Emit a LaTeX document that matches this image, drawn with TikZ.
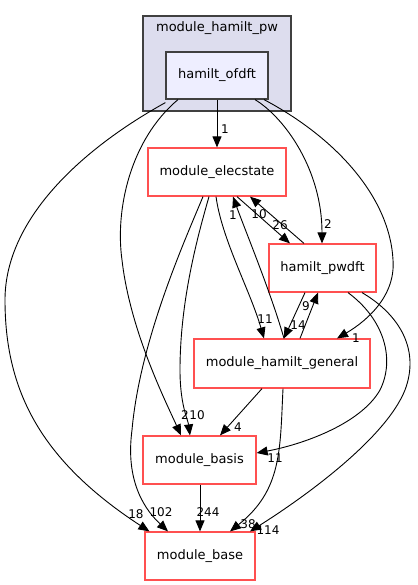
\documentclass[tikz,border=0pt]{standalone}
\usepackage{fontspec}
\setmainfont{DejaVu Sans}
\usetikzlibrary{arrows.meta}
\definecolor{nodered}{RGB}{255,80,80}
\definecolor{clusterfill}{RGB}{221,221,238}
\definecolor{ofdftfill}{RGB}{238,238,255}
\definecolor{darkline}{RGB}{64,64,64}
\tikzset{
  box/.style={draw=nodered, line width=1.2pt, fill=white, inner sep=0pt, font=\fontsize{13}{15}\selectfont},
  mainbox/.style={draw=darkline, line width=1.2pt, fill=ofdftfill, inner sep=0pt, font=\fontsize{13}{15}\selectfont},
  edge/.style={draw=black, line width=0.9pt, -{Triangle[length=11pt,width=9pt]}},
  lbl/.style={inner sep=0pt, font=\fontsize{12}{14}\selectfont}
}
\begin{document}
\begin{tikzpicture}[x=1pt,y=-1pt]
\useasboundingbox (0,0) rectangle (417,585);
% cluster
\node[draw=darkline, line width=1.2pt, fill=clusterfill, minimum width=148pt, minimum height=95pt, inner sep=0pt] (cluster) at (217,63.5) {};
\node[inner sep=0pt, font=\fontsize{13}{15}\selectfont] (clusterlbl) at (217,28) {module\_hamilt\_pw};
% nodes
\node[mainbox, minimum width=102pt, minimum height=47pt] (ofdft) at (217,75.5) {hamilt\_ofdft};
\node[box, minimum width=138pt, minimum height=48pt] (elec) at (217,172) {module\_elecstate};
\node[box, minimum width=107pt, minimum height=48pt] (pw) at (322.5,268) {hamilt\_pwdft};
\node[box, minimum width=176pt, minimum height=49pt] (gen) at (282,363.5) {module\_hamilt\_general};
\node[box, minimum width=113pt, minimum height=48pt] (basis) at (199.5,460) {module\_basis};
\node[box, minimum width=110pt, minimum height=48pt] (base) at (200,556) {module\_base};

% edges from hamilt_ofdft
\draw[edge] (ofdft.south) -- (elec.north);
\draw[edge] ([xshift=38pt]ofdft.south) .. controls (285,118) and (322,170) .. ([xshift=-0.5pt]pw.north);
\draw[edge] ([xshift=47pt]ofdft.south) .. controls (340,140) and (390,200) .. (393,260) .. controls (396,300) and (360,325) .. ([xshift=55pt]gen.north);
\draw[edge] ([xshift=-39pt]ofdft.south) .. controls (130,140) and (115,210) .. (122,260) .. controls (130,330) and (165,400) .. ([xshift=-18.5pt]basis.north);
\draw[edge] ([yshift=-3pt]ofdft.south west) .. controls (80,150) and (5,220) .. (5,300) .. controls (5,390) and (40,460) .. ([xshift=5pt]base.north west);

% edges from module_elecstate
\draw[edge] ([xshift=-14pt]elec.south) .. controls (185,240) and (140,340) .. (132,430) .. controls (126,475) and (140,505) .. ([xshift=-32pt]base.north);
\draw[edge] ([xshift=-8pt]elec.south) .. controls (198,235) and (180,300) .. (180,370) .. controls (180,405) and (188,420) .. ([xshift=-9.5pt]basis.north);
\draw[edge] ([xshift=-1pt]elec.south) .. controls (222,240) and (250,290) .. ([xshift=-18pt]gen.north);
\draw[edge] ([xshift=20pt]elec.south) -- ([xshift=-32.5pt]pw.north);

% edges from hamilt_pwdft
\draw[edge] ([xshift=-18.5pt]pw.north) -- ([xshift=33pt]elec.south);
\draw[edge] ([xshift=-17.5pt]pw.south) -- ([xshift=2pt]gen.north);
\draw[edge] ([xshift=25.5pt]pw.south) .. controls (385,320) and (395,360) .. (380,390) .. controls (360,425) and (300,445) .. ([yshift=7pt]basis.east);
\draw[edge] ([xshift=39.5pt]pw.south) .. controls (400,315) and (420,350) .. (405,390) .. controls (385,440) and (300,500) .. ([xshift=50pt]base.north);

% edges from module_hamilt_general
\draw[edge] ([xshift=2pt]gen.north) .. controls (270,290) and (245,230) .. ([xshift=16pt]elec.south);
\draw[edge] ([xshift=18pt]gen.north) -- ([xshift=-4.5pt]pw.south);
\draw[edge] ([xshift=-20pt]gen.south) -- ([xshift=20.5pt]basis.north);
\draw[edge] ([xshift=1pt]gen.south) .. controls (280,450) and (282,490) .. ([xshift=30pt]base.north);

% module_basis -> module_base
\draw[edge] ([xshift=0.5pt]basis.south) -- (base.north);

% labels
\node[lbl] (l1) at (225,129) {1};
\node[lbl] (l2) at (328,224) {2};
\node[lbl] (l3) at (356,338) {1};
\node[lbl] (l4) at (185,415) {2};
\node[lbl] (l5) at (197,415) {10};
\node[lbl] (l6) at (136,514) {18};
\node[lbl] (l7) at (161,512) {102};
\node[lbl] (l8) at (265,319) {11};
\node[lbl] (l9) at (233,215) {1};
\node[lbl] (l10) at (259,214) {10};
\node[lbl] (l11) at (280,225) {26};
\node[lbl] (l12) at (298,325) {14};
\node[lbl] (l13) at (306,306) {9};
\node[lbl] (l14) at (275,458) {11};
\node[lbl] (l15) at (268,530) {114};
\node[lbl] (l16) at (238,427) {4};
\node[lbl] (l17) at (248,524) {38};
\node[lbl] (l18) at (208,512) {244};
\end{tikzpicture}
\end{document}
